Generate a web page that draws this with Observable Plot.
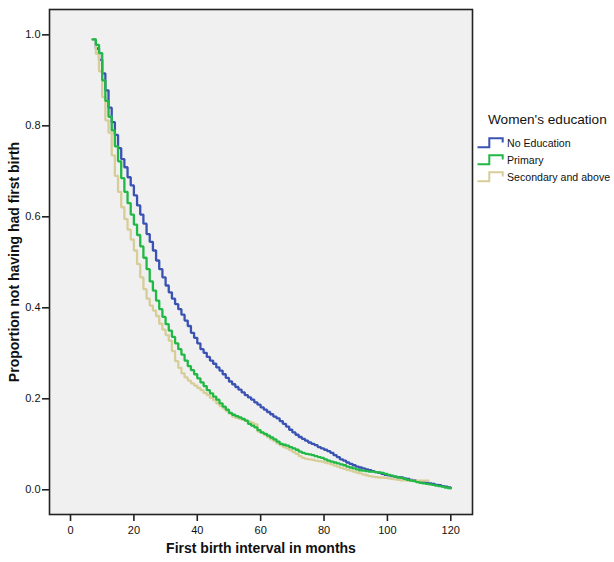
<!DOCTYPE html>
<html>
<head>
<meta charset="utf-8">
<script src="https://cdn.jsdelivr.net/npm/d3@7"></script>
<script src="https://cdn.jsdelivr.net/npm/@observablehq/plot@0.6"></script>
<style>
  html, body { margin: 0; padding: 0; background: #fff; }
  #wrap { position: relative; width: 614px; height: 562px; font-family: "Liberation Sans", Arial, sans-serif; }
  #legend { position: absolute; left: 477px; top: 111px; color: #111; }
  #legend .title { font-size: 13.6px; line-height: 18px; margin-left: 11px; margin-bottom: 5px; white-space: nowrap; }
  #legend .item { display: flex; align-items: center; height: 17px; font-size: 10.6px; white-space: nowrap; }
  #legend .item svg { margin-right: 3px; }
</style>
</head>
<body>
<div id="wrap"><div id="legend"></div></div>
<script>
const groups = ["No Education", "Primary", "Secondary and above"];
const colors = ["#3a53b3", "#22b845", "#d6cd99"];

const months = [7,8,9,10,11,12,13,14,15,16,17,18,19,20,21,22,23,24,25,26,27,28,29,30,31,32,33,34,35,36,37,38,39,40,
  41,42,43,44,45,46,47,48,49,50,51,52,53,54,55,56,57,58,59,60,61,62,63,64,65,66,67,68,69,70,71,72,73,74,75,76,77,78,79,80,
  81,82,83,84,85,86,87,88,89,90,91,92,93,94,95,96,97,98,99,100,101,102,103,104,105,106,107,108,109,110,111,112,113,114,115,116,117,118,119,120];

const noEducation = [0.99,0.97,0.945,0.915,0.878,0.84,0.808,0.78,0.751,0.727,0.709,0.687,0.669,0.647,0.625,0.605,0.585,0.562,0.545,0.526,
  0.504,0.485,0.467,0.449,0.434,0.42,0.408,0.397,0.385,0.372,0.36,0.345,0.334,0.322,0.309,0.301,0.292,0.284,0.277,0.269,
  0.262,0.254,0.246,0.238,0.232,0.226,0.22,0.214,0.208,0.203,0.198,0.192,0.187,0.181,0.176,0.171,0.166,0.161,0.157,0.151,
  0.145,0.139,0.132,0.126,0.121,0.116,0.112,0.108,0.104,0.101,0.098,0.094,0.091,0.088,0.085,0.081,0.076,0.072,0.067,0.064,
  0.06,0.057,0.054,0.051,0.049,0.047,0.045,0.043,0.041,0.039,0.037,0.035,0.033,0.032,0.03,0.029,0.028,0.027,0.025,0.024,
  0.022,0.021,0.019,0.018,0.017,0.015,0.014,0.013,0.011,0.01,0.008,0.007,0.005,0.004];

const primary = [0.99,0.978,0.96,0.9,0.855,0.82,0.79,0.755,0.722,0.685,0.655,0.63,0.605,0.583,0.56,0.535,0.51,0.485,0.458,0.438,
  0.416,0.397,0.38,0.364,0.35,0.336,0.322,0.309,0.297,0.284,0.272,0.263,0.254,0.245,0.236,0.228,0.219,0.212,0.205,0.198,
  0.19,0.183,0.176,0.169,0.165,0.162,0.159,0.156,0.152,0.145,0.141,0.137,0.131,0.126,0.123,0.119,0.115,0.111,0.106,0.101,
  0.099,0.097,0.094,0.091,0.088,0.084,0.081,0.079,0.078,0.076,0.074,0.072,0.07,0.067,0.064,0.062,0.06,0.058,0.056,0.054,
  0.051,0.049,0.047,0.045,0.043,0.042,0.041,0.04,0.04,0.039,0.038,0.037,0.035,0.033,0.031,0.029,0.027,0.026,0.024,0.022,
  0.02,0.019,0.017,0.015,0.014,0.013,0.012,0.011,0.009,0.008,0.007,0.005,0.004,0.003];

const secondary = [0.99,0.958,0.92,0.863,0.812,0.785,0.735,0.69,0.655,0.621,0.595,0.572,0.55,0.526,0.496,0.467,0.441,0.42,0.405,0.394,
  0.382,0.365,0.352,0.34,0.328,0.305,0.283,0.268,0.256,0.247,0.24,0.234,0.229,0.224,0.219,0.213,0.208,0.202,0.197,0.19,
  0.184,0.179,0.173,0.167,0.161,0.158,0.156,0.154,0.152,0.15,0.147,0.144,0.128,0.125,0.121,0.116,0.111,0.107,0.102,0.098,
  0.094,0.091,0.087,0.083,0.079,0.074,0.07,0.068,0.067,0.066,0.064,0.063,0.062,0.06,0.058,0.056,0.053,0.051,0.048,0.046,
  0.044,0.042,0.04,0.038,0.036,0.034,0.032,0.03,0.029,0.028,0.027,0.027,0.026,0.025,0.024,0.023,0.022,0.021,0.021,0.02,
  0.02,0.02,0.02,0.02,0.02,0.02,0.02];

const xTicks = [0, 20, 40, 60, 80, 100, 120];
const yTicks = [0.0, 0.2, 0.4, 0.6, 0.8, 1.0];
const xTitle = "First birth interval in months";
const yTitle = "Proportion not having had first birth";
const legendTitle = "Women's education";

const series = [noEducation, primary, secondary];
const rows = [];
series.forEach((vals, i) => vals.forEach((v, j) => rows.push({t: months[j], s: v, g: groups[i]})));
const drawOrder = [0, 2, 1];

const chart = Plot.plot({
  width: 614,
  height: 562,
  marginLeft: 49,
  marginRight: 142,
  marginTop: 9,
  marginBottom: 48,
  style: {fontFamily: '"Liberation Sans", Arial, sans-serif', fontSize: "11px", color: "#111", background: "transparent"},
  x: {domain: [-6.63, 126.85]},
  y: {domain: [-0.0543, 1.0557]},
  marks: [
    Plot.frame({fill: "#f0f0f0", stroke: "none"}),
    ...drawOrder.map(i => Plot.line(rows.filter(d => d.g === groups[i]), {
      x: "t", y: "s", curve: "step-after", stroke: colors[i], strokeWidth: 2.3, strokeLinejoin: "miter"
    })),
    Plot.frame({stroke: "#222", strokeWidth: 1.6}),
    Plot.axisX(xTicks, {tickSize: 7, tickPadding: 5, label: null, stroke: "#222", strokeWidth: 1.6}),
    Plot.axisY(yTicks, {tickSize: 7, tickPadding: 2, label: null, tickFormat: d3.format(".1f"), stroke: "#222", strokeWidth: 1.6}),
    Plot.text([xTitle], {frameAnchor: "bottom", dy: 38.5, textAnchor: "middle", fontWeight: "bold", fontSize: 14, fill: "#111"}),
    Plot.text([yTitle], {frameAnchor: "left", dx: -35, textAnchor: "middle", rotate: -90, fontWeight: "bold", fontSize: 14, fill: "#111"})
  ]
});
const wrap = document.getElementById("wrap");
wrap.insertBefore(chart, wrap.firstChild);

const legend = document.getElementById("legend");
const t = document.createElement("div");
t.className = "title";
t.textContent = legendTitle;
legend.appendChild(t);
groups.forEach((g, i) => {
  const it = document.createElement("div");
  it.className = "item";
  it.innerHTML = `<svg width="27" height="17"><path d="M0.5,13.3H12.3V4.3H25.7V8.5" fill="none" stroke="${colors[i]}" stroke-width="2"/></svg><span>${g}</span>`;
  legend.appendChild(it);
});
</script>
</body>
</html>
